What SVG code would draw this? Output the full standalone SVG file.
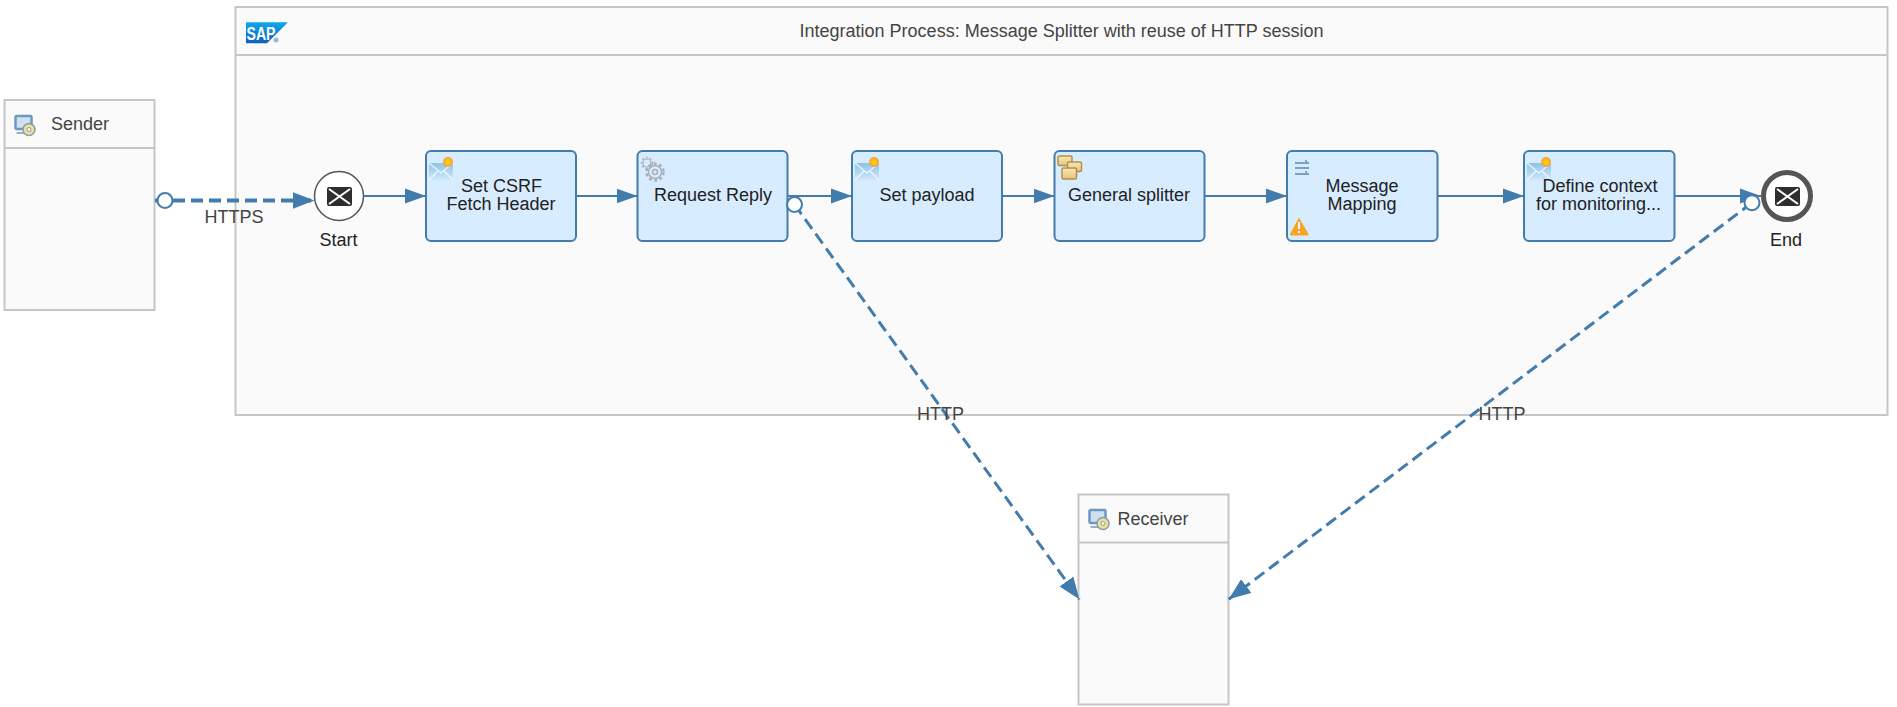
<svg xmlns="http://www.w3.org/2000/svg" width="1897" height="707" viewBox="0 0 1897 707">
<style>
text{font-family:"Liberation Sans",Arial,sans-serif;font-size:18px;fill:#222;text-anchor:middle}
.lbl{fill:#444}
.pool{fill:#fafafa;stroke:#c6c6c6;stroke-width:2}
.step{fill:#d8ecff;stroke:#427cac;stroke-width:2}
.flow{fill:none;stroke:#427cac;stroke-width:2;marker-end:url(#ah)}
.msg{fill:none;stroke:#427cac;stroke-width:3;stroke-dasharray:12 6;marker-end:url(#ah2)}
.port{fill:#fff;stroke:#427cac;stroke-width:2}
.env{fill:#2e2e2e}
.envl{fill:none;stroke:#fff;stroke-width:2}
</style>
<defs>
<marker id="ah" markerUnits="userSpaceOnUse" markerWidth="22" markerHeight="16" refX="21" refY="8" orient="auto"><path d="M0 0.5L21 8L0 15.5Z" fill="#427cac"/></marker>
<marker id="ah2" markerUnits="userSpaceOnUse" markerWidth="23" markerHeight="18" refX="22" refY="9" orient="auto"><path d="M0 0.5L22 9L0 17.5Z" fill="#427cac"/></marker>
<linearGradient id="mail" x1="0" y1="0" x2="0" y2="1"><stop offset="0" stop-color="#8cc4ea"/><stop offset="1" stop-color="#cfe8f8"/></linearGradient>
<radialGradient id="sun"><stop offset="0" stop-color="#ffdf00"/><stop offset="1" stop-color="#f99a3c"/></radialGradient>
<linearGradient id="sap" x1="0" y1="0" x2="0" y2="1"><stop offset="0" stop-color="#0fa8ec"/><stop offset="1" stop-color="#0e5fc0"/></linearGradient>
<linearGradient id="gold" x1="0" y1="0" x2="0" y2="1"><stop offset="0" stop-color="#f9e7b6"/><stop offset="1" stop-color="#e6c67a"/></linearGradient>
<g id="mailicon">
<rect x="0" y="3" width="24" height="17" fill="url(#mail)"/>
<path d="M0 3L12 13L24 3M0 20L9 11M24 20L15 11" fill="none" stroke="#eef7fd" stroke-width="1.200"/>
<circle cx="19" cy="2" r="5" fill="url(#sun)"/>
</g>
<g id="sysicon">
<rect x="1" y="1" width="16" height="13" rx="1" fill="#cfe0f2" stroke="#6f97c4" stroke-width="2.500"/>
<path d="M2 18h9" stroke="#6f97c4" stroke-width="1.500"/>
<circle cx="14.500" cy="14.500" r="6" fill="#e8e29a" stroke="#8c9aa8" stroke-width="1.500"/>
<circle cx="14.500" cy="14.500" r="2" fill="#fff" stroke="#8c9aa8"/>
</g>
<g id="envicon">
<rect x="0" y="0" width="25" height="19" rx="2" class="env"/>
<path d="M2 2L23 17M23 2L2 17" class="envl"/>
</g>
</defs>
<rect width="1897" height="707" fill="#fff"/>

<g id="process">
<rect class="pool" x="235.500" y="7" width="1652" height="408"/>
<path d="M235.500 55H1887.500" stroke="#c6c6c6" stroke-width="2"/>
<path d="M246 22.300H288L267 43.300H246Z" fill="url(#sap)"/>
<text x="261" y="39.500" style="font-size:19px;font-weight:bold;fill:#fff" textLength="29" lengthAdjust="spacingAndGlyphs">SAP</text>
<circle cx="276" cy="40" r="2.500" fill="#9db6d8"/>
<text class="lbl" x="1061.500" y="37">Integration Process: Message Splitter with reuse of HTTP session</text>
</g>

<g id="sender">
<rect class="pool" x="4.500" y="100" width="150" height="210"/>
<path d="M4.500 148H154.500" stroke="#c6c6c6" stroke-width="2"/>
<use href="#sysicon" x="14.500" y="115"/>
<text class="lbl" x="80" y="130">Sender</text>
</g>

<g id="receiver">
<rect class="pool" x="1078.500" y="494.500" width="150" height="210"/>
<path d="M1078.500 542.500H1228.500" stroke="#c6c6c6" stroke-width="2"/>
<use href="#sysicon" x="1088.500" y="509"/>
<text class="lbl" x="1153" y="525">Receiver</text>
</g>

<g id="start">
<circle cx="339" cy="196" r="24.500" fill="#fff" stroke="#555" stroke-width="1.500"/>
<use href="#envicon" x="327" y="187"/>
<text x="338.500" y="246">Start</text>
</g>

<g id="set-csrf">
<rect class="step" x="426" y="151" width="150" height="90" rx="5"/>
<use href="#mailicon" x="429" y="160"/>
<text x="501.500" y="191.500">Set CSRF</text>
<text x="501" y="209.500">Fetch Header</text>
</g>

<g id="request-reply">
<rect class="step" x="637.500" y="151" width="150" height="90" rx="5"/>
<g fill="none" stroke="#a9b1b8">
<circle cx="655" cy="172" r="6.500" stroke-width="1.500"/>
<circle cx="655" cy="172" r="8.500" stroke-width="2.500" stroke-dasharray="3 2.500"/>
<circle cx="655" cy="172" r="2.500" stroke-width="1.500"/>
<circle cx="647" cy="163" r="4" stroke-width="1.200"/>
<circle cx="647" cy="163" r="5.500" stroke-width="1.500" stroke-dasharray="2 2"/>
</g>
<text x="713" y="201">Request Reply</text>
</g>

<g id="set-payload">
<rect class="step" x="852" y="151" width="150" height="90" rx="5"/>
<use href="#mailicon" x="855" y="160"/>
<text x="927" y="201">Set payload</text>
</g>

<g id="general-splitter">
<rect class="step" x="1054.500" y="151" width="150" height="90" rx="5"/>
<g fill="url(#gold)" stroke="#b2904a" stroke-width="1.500">
<rect x="1058" y="156" width="14" height="9.500" rx="1.500"/>
<rect x="1067.500" y="162" width="14" height="9.500" rx="1.500"/>
<rect x="1062" y="168" width="14.500" height="11" rx="1.500"/>
</g>
<text x="1129" y="201">General splitter</text>
</g>

<g id="message-mapping">
<rect class="step" x="1287" y="151" width="150.500" height="90" rx="5"/>
<path d="M1295 163h14M1295 168h14M1295 174h14M1306 160v3M1306 171v3" stroke="#7f9fc0" stroke-width="1.800" fill="none"/>
<path d="M1299 217.500L1308.500 234a1 1 0 0 1 -1 1.500H1291a1 1 0 0 1 -1 -1.500Z" fill="#f9a429"/>
<path d="M1299 222v7M1299 231v2" stroke="#fff" stroke-width="2"/>
<text x="1362" y="191.500">Message</text>
<text x="1362" y="209.500">Mapping</text>
</g>

<g id="define-context">
<rect class="step" x="1524" y="151" width="150.500" height="90" rx="5"/>
<use href="#mailicon" x="1527" y="160"/>
<text x="1600" y="191.500">Define context</text>
<text x="1598.500" y="209.500">for monitoring...</text>
</g>

<g id="end">
<circle cx="1787" cy="196" r="23.500" fill="#fff" stroke="#555" stroke-width="5"/>
<use href="#envicon" x="1775" y="187"/>
<text x="1786" y="246">End</text>
</g>

<g id="connectors">
<path class="flow" d="M363.500 196H426"/>
<path class="flow" d="M576 196H637.500"/>
<path class="flow" d="M787.500 196H852"/>
<path class="flow" d="M1002 196H1054.500"/>
<path class="flow" d="M1204.500 196H1287"/>
<path class="flow" d="M1437.500 196H1524"/>
<path class="flow" d="M1674.500 196H1761"/>
<path class="msg" style="stroke-width:4" d="M155 200.500H314.500"/>
<circle class="port" cx="165" cy="200.500" r="7.500"/>
<path class="msg" d="M794.500 204.500L1079.300 599.300"/>
<circle class="port" cx="794.500" cy="204.500" r="7.500"/>
<path class="msg" d="M1752 202.700L1228.700 599.300"/>
<circle class="port" cx="1752" cy="202.700" r="7.500"/>
<text class="lbl" x="234" y="223">HTTPS</text>
<text class="lbl" x="940.500" y="420">HTTP</text>
<text class="lbl" x="1502" y="420">HTTP</text>
</g>
</svg>
